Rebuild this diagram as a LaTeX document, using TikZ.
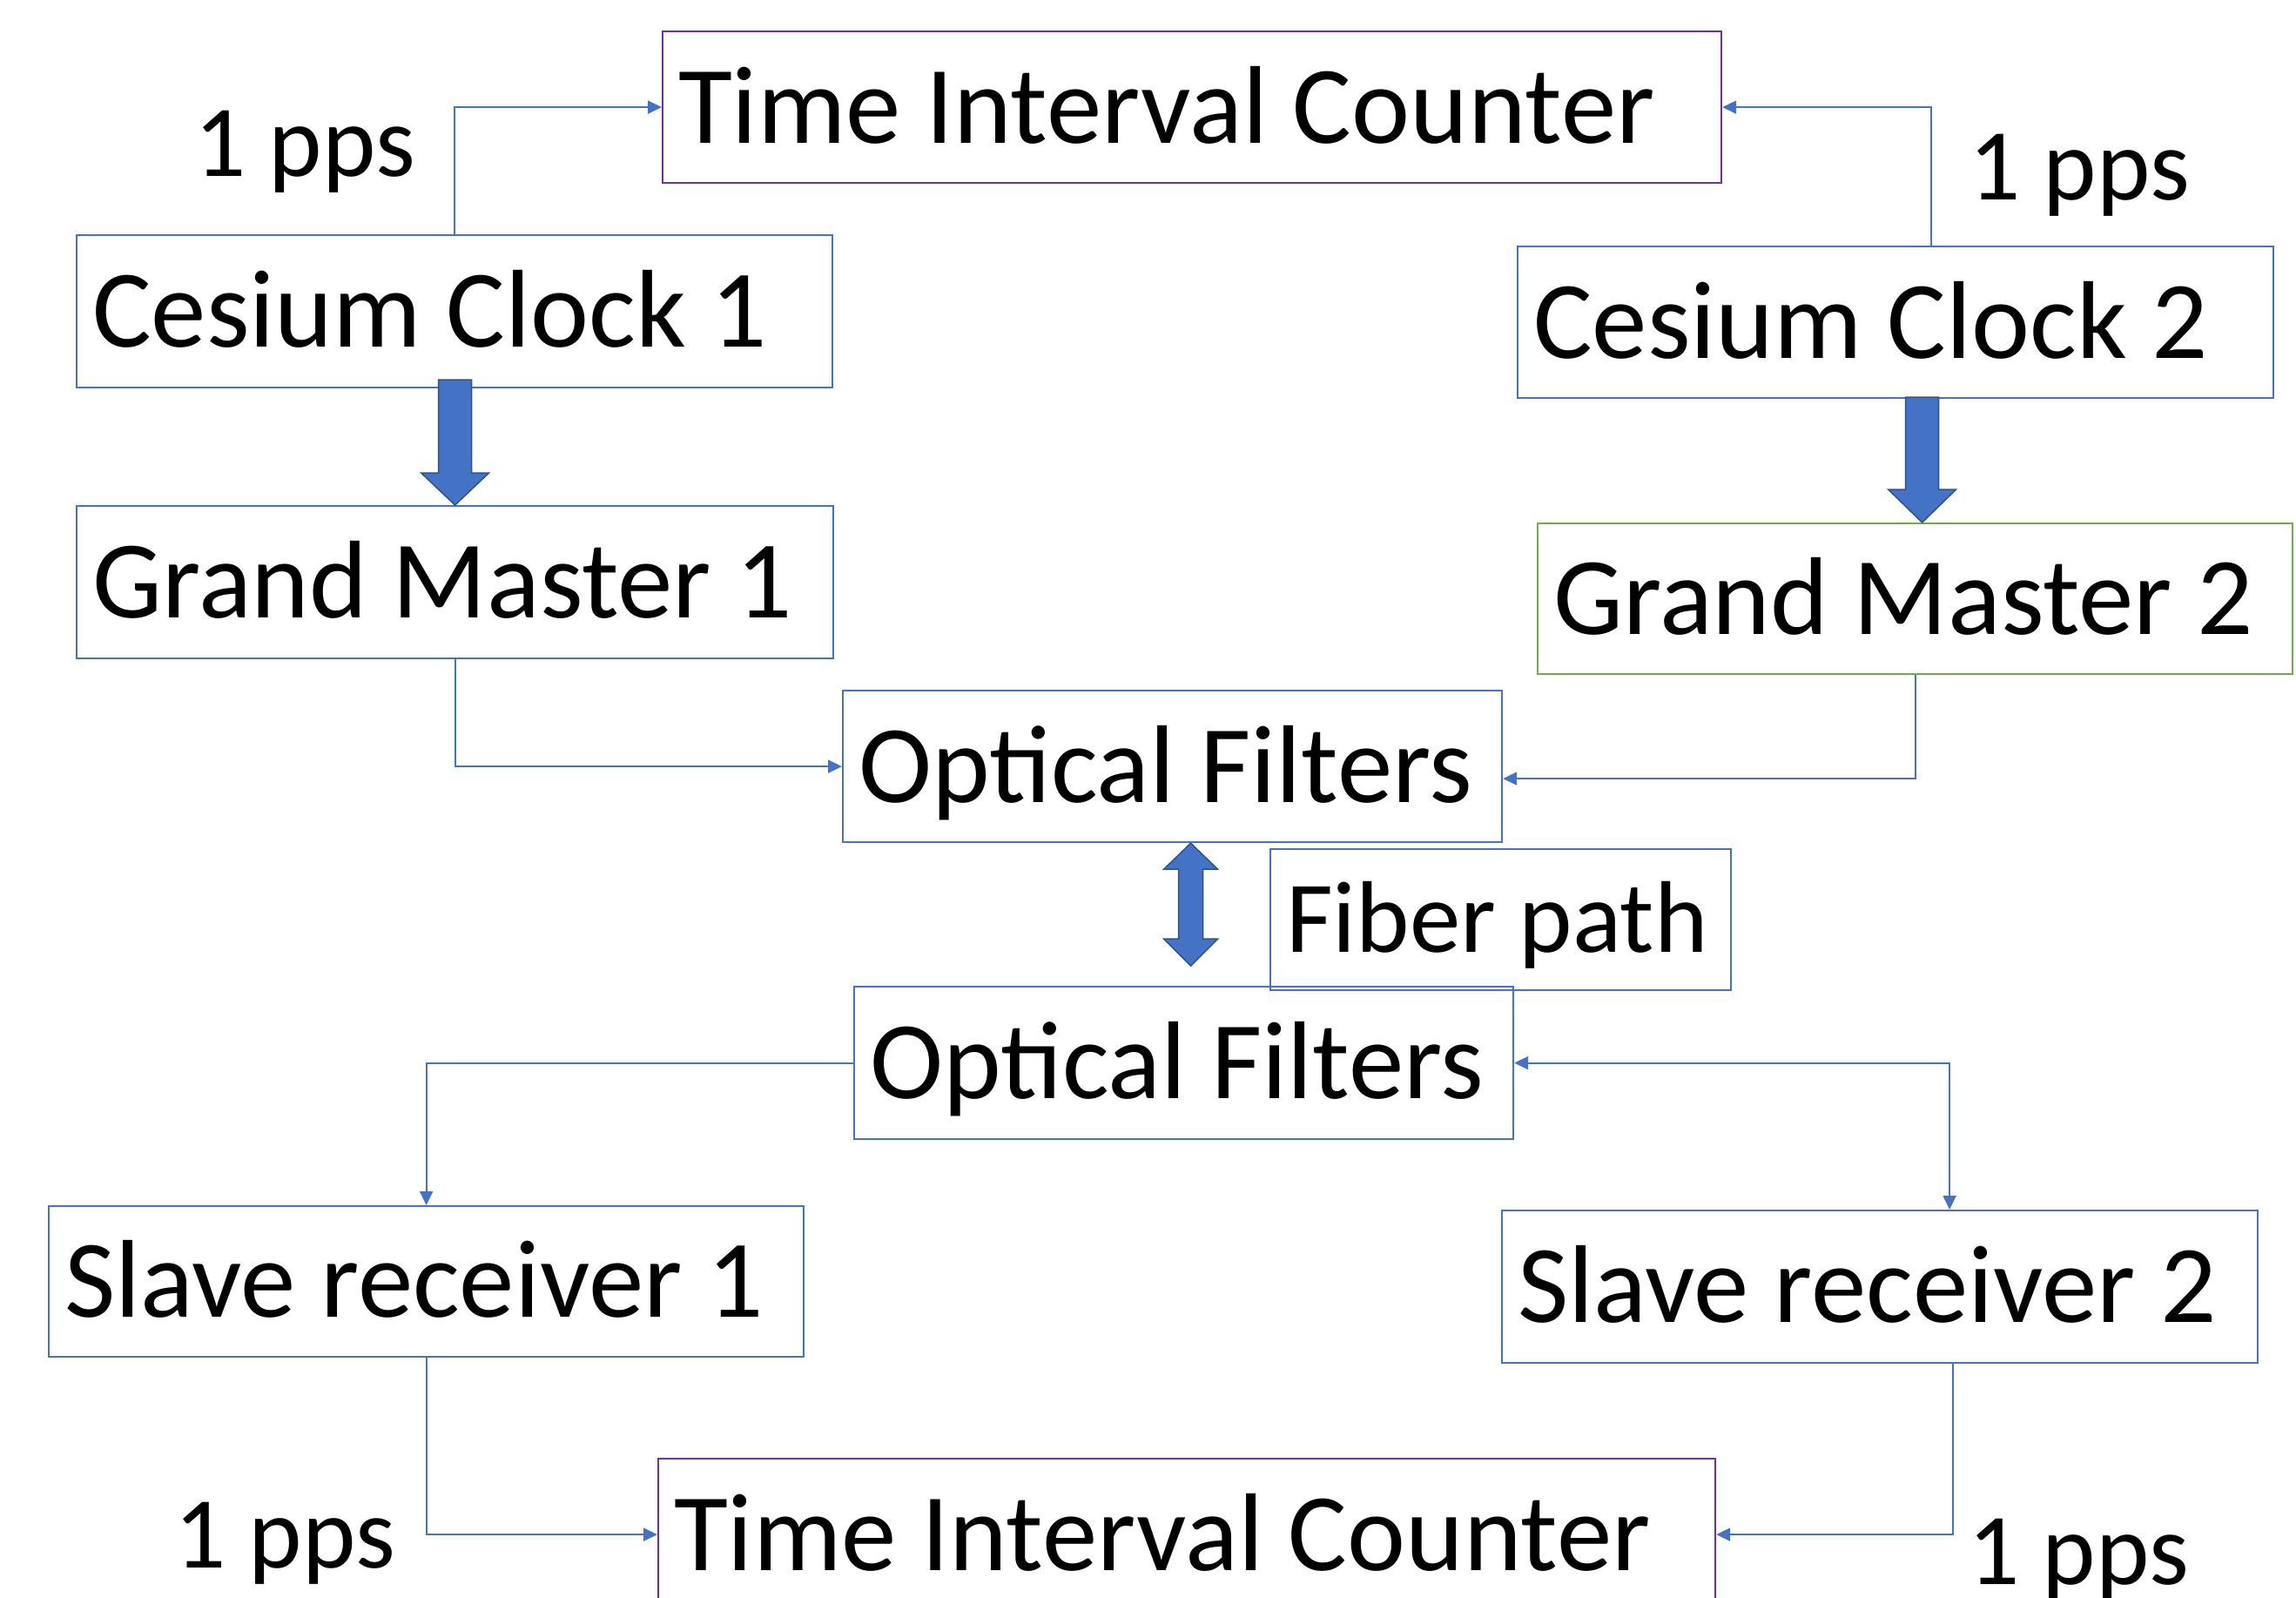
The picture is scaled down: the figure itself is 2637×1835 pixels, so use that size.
\documentclass[tikz,border=0pt]{standalone}
\usepackage{fontspec}
\setmainfont{Carlito}
\usetikzlibrary{arrows.meta,calc}
\definecolor{cblue}{HTML}{4472C4}
\definecolor{cpurple}{HTML}{7030A0}
\definecolor{cgreen}{HTML}{70AD47}
\definecolor{cdark}{HTML}{2F528F}
\newcommand\bxt[2]{\makebox[#1][l]{#2}}
\begin{document}
\begin{tikzpicture}[x=1pt,y=-1pt,
  box/.style={draw=cblue, line width=2.2pt, rectangle, anchor=north west,
    inner xsep=18pt, inner ysep=0pt,
    font=\fontsize{127}{150}\selectfont, text height=82pt, text depth=0pt},
  smallbox/.style={box, font=\fontsize{117}{140}\selectfont, text height=75pt},
  lbl/.style={anchor=base west, inner sep=0pt, font=\fontsize{117}{140}\selectfont},
  conn/.style={draw=cblue, line width=2pt, -{Triangle[length=16pt,width=15pt]}},
  barrow/.style={fill=cblue, draw=cdark, line width=1.5pt, line join=miter}
]
\useasboundingbox (0,0) rectangle (2637,1835);
\fill[white] (0,0) rectangle (2637,1835);
\clip (0,0) rectangle (2637,1835);

% boxes
\node[box, draw=cpurple, minimum height=174pt] (tic1) at (760,35) {\bxt{1180pt}{Time Interval Counter}};
\node[box, minimum height=175pt] (cc1) at (87,269) {\bxt{832pt}{Cesium Clock 1}};
\node[box, minimum height=174pt] (cc2) at (1742,282) {\bxt{832pt}{Cesium Clock 2}};
\node[box, minimum height=175pt] (gm1) at (87,580) {\bxt{833pt}{Grand Master 1}};
\node[box, draw=cgreen, minimum height=173pt] (gm2) at (1765,600) {\bxt{831pt}{Grand Master 2}};
\node[box, minimum height=174pt] (of1) at (967,792) {\bxt{721pt}{Optical Filters}};
\node[smallbox, minimum height=162pt] (fp) at (1458,974) {\bxt{493pt}{Fiber path}};
\node[box, minimum height=175pt] (of2) at (980,1132) {\bxt{721pt}{Optical Filters}};
\node[box, minimum height=173pt] (sr1) at (55,1384) {\bxt{831pt}{Slave receiver 1}};
\node[box, minimum height=175pt] (sr2) at (1724,1389) {\bxt{832pt}{Slave receiver 2}};
\node[box, draw=cpurple, minimum height=174pt] (tic2) at (755,1674) {\bxt{1178pt}{Time Interval Counter}};

% labels
\node[lbl] (p1) at (223,203) {1 pps};
\node[lbl] (p2) at (2261,230) {1 pps};
\node[lbl] (p3) at (200,1800) {1 pps};
\node[lbl] (p4) at (2260,1819) {1 pps};

% block arrows
\draw[barrow] (gm1.north) -- ++(-39,-37) -- ++(20,0) -- ++(0,-107) -- ++(38,0) -- ++(0,107) -- ++(20,0) -- cycle;
\draw[barrow] ([xshift=8pt]gm2.north) -- ++(-39,-38) -- ++(20,0) -- ++(0,-106) -- ++(38,0) -- ++(0,106) -- ++(20,0) -- cycle;
\draw[barrow] ([xshift=21pt]of1.south) -- ++(31,30) -- ++(-17,0) -- ++(0,80) -- ++(17,0) -- ++(-31,31) -- ++(-31,-31) -- ++(17,0) -- ++(0,-80) -- ++(-17,0) -- cycle;

% connectors
\draw[conn] (cc1.north) |- (tic1.west);
\draw[conn] ([xshift=41pt]cc2.north) |- (tic1.east);
\draw[conn] (gm1.south) |- (of1.west);
\draw[conn] (gm2.south) |- ([yshift=-14pt]of1.east);
\draw[conn] (of2.west) -| (sr1.north);
\draw[conn, {Triangle[length=16pt,width=15pt]}-{Triangle[length=16pt,width=15pt]}] (of2.east) -| ([xshift=80pt]sr2.north);
\draw[conn] (sr1.south) |- (tic2.west);
\draw[conn] ([xshift=84pt]sr2.south) |- (tic2.east);
\end{tikzpicture}
\end{document}
